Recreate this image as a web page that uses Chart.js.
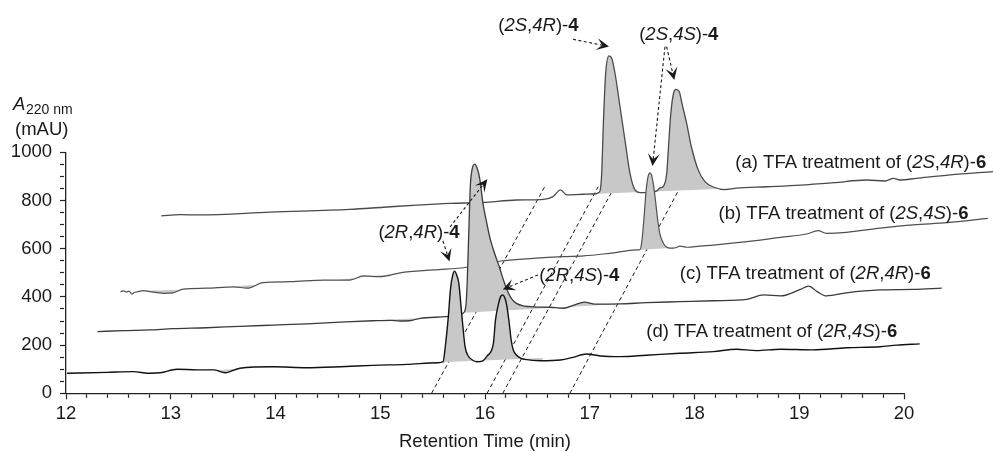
<!DOCTYPE html>
<html>
<head>
<meta charset="utf-8">
<script src="https://cdn.jsdelivr.net/npm/chart.js@4.4.1/dist/chart.umd.min.js"></script>
<style>
  html, body { margin: 0; padding: 0; background: #fff; }
  #wrap { width: 993px; height: 451px; }
</style>
</head>
<body>
<div id="wrap"><canvas id="chart" width="993" height="451"></canvas></div>
<script>
// traces as drawn in the figure (offset, stacked chromatograms) - time in min, absorbance in mAU
const traceDTime = [12.01, 12.39, 12.64, 12.80, 12.90, 13.06, 13.25, 13.41, 13.52, 13.66,
  13.98, 14.30, 14.62, 14.93, 15.25, 15.55, 15.60, 15.62, 15.65, 15.67,
  15.69, 15.71, 15.73, 15.75, 15.78, 15.81, 15.84, 15.88, 15.92, 15.98,
  16.02, 16.08, 16.10, 16.13, 16.15, 16.17, 16.19, 16.21, 16.23, 16.25,
  16.27, 16.30, 16.34, 16.38, 16.53, 16.72, 16.84, 16.97, 17.10, 17.29,
  17.54, 17.86, 18.18, 18.40, 18.59, 18.82, 19.13, 19.45, 19.77, 19.93, 20.15];
const traceDAbs = [83, 87, 90, 83, 85, 100, 97, 97, 85, 104,
  110, 106, 110, 116, 120, 127, 131, 190, 318, 430,
  487, 507, 490, 456, 318, 193, 155, 138, 131, 135,
  155, 207, 304, 373, 402, 408, 395, 359, 296, 221,
  180, 159, 146, 141, 135, 138, 149, 163, 155, 152,
  158, 166, 173, 183, 177, 183, 180, 189, 193, 200, 205];

const traceCTime = [12.30, 12.55, 12.80, 13.02, 13.34, 13.66, 13.98, 14.30, 14.62, 14.93,
  15.10, 15.19, 15.28, 15.38, 15.63, 15.79, 15.81, 15.82, 15.83, 15.845,
  15.86, 15.875, 15.90, 15.925, 15.95, 15.98, 16.02, 16.05, 16.10, 16.14,
  16.18, 16.21, 16.25, 16.30, 16.38, 16.46, 16.62, 16.75, 16.85, 16.95,
  17.05, 17.29, 17.54, 17.86, 18.18, 18.50, 18.66, 18.82, 19.01, 19.09,
  19.17, 19.26, 19.45, 19.77, 20.09, 20.36];
const traceCAbs = [256, 260, 263, 268, 272, 278, 283, 288, 295, 301,
  303, 300, 301, 311, 318, 332, 345, 375, 460, 664,
  860, 925, 951, 935, 890, 790, 700, 640, 570, 520,
  465, 430, 395, 373, 362, 359, 357, 353, 366, 378,
  370, 371, 376, 380, 384, 390, 408, 404, 431, 445,
  422, 404, 417, 429, 431, 436];

const traceBTime = [12.52, 12.55, 12.58, 12.60, 12.63, 12.65, 12.68, 12.74, 12.80, 12.93,
  13.02, 13.12, 13.34, 13.60, 13.73, 13.88, 14.14, 14.46, 14.71, 14.84,
  15.00, 15.19, 15.51, 15.83, 16.17, 16.46, 16.75, 16.94, 17.19, 17.45,
  17.48, 17.50, 17.52, 17.54, 17.56, 17.575, 17.59, 17.61, 17.63, 17.65,
  17.67, 17.70, 17.73, 17.77, 17.82, 17.86, 17.93, 18.05, 18.18, 18.50,
  18.82, 19.07, 19.18, 19.26, 19.45, 19.77, 20.09, 20.41, 20.80];
const traceBAbs = [422, 425, 420, 424, 411, 418, 421, 426, 422, 415,
  417, 432, 436, 442, 436, 459, 463, 470, 470, 487,
  484, 500, 512, 523, 550, 560, 567, 570, 581, 595,
  597, 640, 740, 850, 905, 915, 905, 860, 790, 715,
  660, 625, 608, 602, 604, 611, 606, 611, 615, 629,
  647, 661, 675, 664, 668, 685, 699, 708, 726];

const traceATime = [12.91, 13.09, 13.28, 13.95, 14.71, 15.03, 15.35, 15.67, 15.98, 16.30,
  16.56, 16.65, 16.72, 16.78, 16.94, 17.06, 17.08, 17.098, 17.114, 17.13,
  17.152, 17.184, 17.21, 17.241, 17.289, 17.336, 17.384, 17.432, 17.48, 17.575,
  17.64, 17.67, 17.70, 17.735, 17.75, 17.774, 17.80, 17.822, 17.855, 17.88,
  17.925, 17.97, 18.036, 18.10, 18.18, 18.29, 18.40, 18.69, 19.01, 19.33,
  19.64, 19.82, 19.90, 19.96, 20.12, 20.44, 20.85];
const traceAAbs = [736, 741, 740, 752, 763, 772, 781, 788, 792, 802,
  805, 816, 844, 823, 826, 828, 832, 840, 913, 1120,
  1328, 1400, 1390, 1328, 1189, 1051, 913, 844, 833, 834,
  840, 852, 858, 913, 1010, 1162, 1245, 1261, 1251, 1203,
  1120, 1023, 926, 878, 856, 845, 851, 857, 864, 874,
  885, 881, 892, 885, 892, 906, 920];

// integration baselines (gray area lies between trace and these), null = gap
const baseDTime = [13.45, 13.62, 13.63, 15.58, 16.55];
const baseDAbs = [96, 102, null, 129, 146];
const baseCTime = [15.05, 15.40, 15.41, 15.80, 17.25];
const baseCAbs = [305, 312, null, 334, 369];
const baseBTime = [12.76, 13.08, 13.09, 13.55, 13.80, 13.81, 14.62, 15.10, 15.11, 17.46, 17.80];
const baseBAbs = [426, 430, null, 441, 450, null, 472, 494, null, 595, 604];
const baseATime = [17.07, 18.40];
const baseAAbs = [828, 851];

// dashed guide lines linking the same retention time across traces
const guideFromTime = [15.49, 16.02, 16.17, 16.81];
const guideToTime = [16.57, 17.08, 17.22, 17.85];
const guideToAbs = [857, 857, 844, 844];

const xTickLabels = ['12', '13', '14', '15', '16', '17', '18', '19', '20'];
const yTickLabels = ['0', '200', '400', '600', '800', '1000'];

const traceLabels = [
  '(a) TFA treatment of (<i>2S</i>,<i>4R</i>)-<b>6</b>',
  '(b) TFA treatment of (<i>2S</i>,<i>4S</i>)-<b>6</b>',
  '(c) TFA treatment of (<i>2R</i>,<i>4R</i>)-<b>6</b>',
  '(d) TFA treatment of (<i>2R</i>,<i>4S</i>)-<b>6</b>'
];
const traceLabelAt = [[18.39, 935], [18.23, 723], [17.86, 474], [17.54, 234]];

const peakLabels = ['(<i>2S</i>,<i>4R</i>)-<b>4</b>', '(<i>2S</i>,<i>4S</i>)-<b>4</b>',
  '(<i>2R</i>,<i>4R</i>)-<b>4</b>', '(<i>2R</i>,<i>4S</i>)-<b>4</b>'];
const peakLabelAt = [[16.51, 1503], [17.85, 1468], [15.37, 646], [16.90, 466]];

const arrowFrom = [[16.84, 1469], [17.718, 1438], [17.734, 1438], [15.666, 690], [15.599, 632], [16.506, 491]];
const arrowTo = [[17.184, 1439], [17.599, 943], [17.807, 1300], [16.022, 888], [15.661, 547], [16.169, 431]];

const FAMILY = '"Liberation Sans", Arial, Helvetica, sans-serif';
const FONT_SIZE = 18.5;
const INK = '#1a1a1a';
const FILL = '#c8c8c8';

Chart.defaults.font.family = FAMILY;
Chart.defaults.font.size = FONT_SIZE;
Chart.defaults.color = INK;

const pts = (xs, ys) => xs.map((x, i) => ({ x: x, y: ys[i] }));

function traceSet(xs, ys, color, width) {
  return {
    data: pts(xs, ys),
    borderColor: color,
    borderWidth: width,
    backgroundColor: FILL,
    fill: '+1',
    pointRadius: 0,
    cubicInterpolationMode: 'monotone',
    clip: false
  };
}

function baseSet(xs, ys) {
  return {
    data: pts(xs, ys),
    borderColor: 'rgba(0,0,0,0)',
    borderWidth: 1,
    pointRadius: 0,
    fill: false,
    tension: 0,
    spanGaps: false,
    clip: false
  };
}

const datasets = [
  traceSet(traceDTime, traceDAbs, '#111', 1.4),
  baseSet(baseDTime, baseDAbs),
  traceSet(traceCTime, traceCAbs, '#3a3a3a', 1.3),
  baseSet(baseCTime, baseCAbs),
  traceSet(traceBTime, traceBAbs, '#505050', 1.2),
  baseSet(baseBTime, baseBAbs),
  traceSet(traceATime, traceAAbs, '#4a4a4a', 1.3),
  baseSet(baseATime, baseAAbs)
];
guideFromTime.forEach((t, i) => {
  datasets.push({
    data: [{ x: t, y: 0 }, { x: guideToTime[i], y: guideToAbs[i] }],
    borderColor: INK,
    borderWidth: 1,
    borderDash: [4, 3],
    pointRadius: 0,
    fill: false,
    clip: false
  });
});

function drawRich(ctx, markup, x, y, align, size) {
  const parts = [];
  const re = /<(i|b)>(.*?)<\/\1>|([^<]+)/g;
  let m;
  while ((m = re.exec(markup))) {
    if (m[3]) parts.push({ t: m[3], s: '' });
    else parts.push({ t: m[2], s: m[1] });
  }
  const fontOf = s => (s === 'i' ? 'italic ' : s === 'b' ? 'bold ' : '') + size + 'px ' + FAMILY;
  let total = 0;
  parts.forEach(p => { ctx.font = fontOf(p.s); p.w = ctx.measureText(p.t).width; total += p.w; });
  let cx = align === 'center' ? x - total / 2 : x;
  ctx.textAlign = 'left';
  ctx.textBaseline = 'alphabetic';
  parts.forEach(p => { ctx.font = fontOf(p.s); ctx.fillText(p.t, cx, y); cx += p.w; });
}

function drawArrow(ctx, x1, y1, x2, y2) {
  const ang = Math.atan2(y2 - y1, x2 - x1);
  const c = Math.cos(ang), s = Math.sin(ang);
  const len = 12.5, half = 6, notch = 0.55;
  ctx.save();
  ctx.strokeStyle = INK;
  ctx.fillStyle = INK;
  ctx.lineWidth = 1.1;
  ctx.setLineDash([3, 2.5]);
  ctx.beginPath();
  ctx.moveTo(x1, y1);
  ctx.lineTo(x2 - c * len * notch, y2 - s * len * notch);
  ctx.stroke();
  ctx.setLineDash([]);
  ctx.beginPath();
  ctx.moveTo(x2, y2);
  ctx.lineTo(x2 - c * len - s * half, y2 - s * len + c * half);
  ctx.lineTo(x2 - c * len * notch, y2 - s * len * notch);
  ctx.lineTo(x2 - c * len + s * half, y2 - s * len - c * half);
  ctx.closePath();
  ctx.fill();
  ctx.restore();
}

// let fills and lines run past the axis box like in the figure
const overflowPlugin = {
  id: 'overflow',
  beforeDatasetsDraw(chart) {
    chart.$savedArea = chart.chartArea;
    chart.chartArea = { left: 0, top: 0, right: chart.width, bottom: chart.height, width: chart.width, height: chart.height };
  },
  afterDatasetsDraw(chart) {
    chart.chartArea = chart.$savedArea;
  }
};

const notesPlugin = {
  id: 'notes',
  afterDraw(chart) {
    const ctx = chart.ctx;
    const xs = chart.scales.x, ys = chart.scales.y;
    const area = chart.chartArea;
    ctx.save();
    ctx.fillStyle = INK;
    traceLabels.forEach((t, i) => {
      drawRich(ctx, t, xs.getPixelForValue(traceLabelAt[i][0]), ys.getPixelForValue(traceLabelAt[i][1]), 'left', FONT_SIZE);
    });
    peakLabels.forEach((t, i) => {
      drawRich(ctx, t, xs.getPixelForValue(peakLabelAt[i][0]), ys.getPixelForValue(peakLabelAt[i][1]), 'center', FONT_SIZE);
    });
    arrowFrom.forEach((p, i) => {
      drawArrow(ctx, xs.getPixelForValue(p[0]), ys.getPixelForValue(p[1]),
        xs.getPixelForValue(arrowTo[i][0]), ys.getPixelForValue(arrowTo[i][1]));
    });
    // y axis title: A220 nm / (mAU)
    ctx.fillStyle = INK;
    ctx.textBaseline = 'alphabetic';
    ctx.textAlign = 'left';
    ctx.font = 'italic ' + FONT_SIZE + 'px ' + FAMILY;
    ctx.fillText('A', area.left - 53, area.top - 42);
    ctx.font = '14px ' + FAMILY;
    ctx.fillText('220 nm', area.left - 40, area.top - 38.5);
    ctx.font = FONT_SIZE + 'px ' + FAMILY;
    ctx.fillText('(mAU)', area.left - 51, area.top - 17.5);
    ctx.restore();
  }
};

const isMajor = v => Math.abs(v - Math.round(v)) < 1e-6;

new Chart(document.getElementById('chart'), {
  type: 'line',
  data: { datasets: datasets },
  plugins: [overflowPlugin, notesPlugin],
  options: {
    responsive: false,
    animation: false,
    devicePixelRatio: 1,
    layout: { padding: { top: 152.3, right: 89, left: 0, bottom: 0 } },
    plugins: { legend: { display: false }, tooltip: { enabled: false } },
    scales: {
      x: {
        type: 'linear',
        bounds: 'data',
        afterDataLimits: s => { s.min = Number(xTickLabels[0]); s.max = Number(xTickLabels[xTickLabels.length - 1]); },
        afterBuildTicks: s => {
          const ticks = [];
          xTickLabels.forEach((lab, i) => {
            const v = Number(lab);
            ticks.push({ value: v });
            if (i < xTickLabels.length - 1) {
              for (let k = 1; k < 5; k++) ticks.push({ value: Math.round((v + k * 0.2) * 10) / 10 });
            }
          });
          s.ticks = ticks;
        },
        afterFit: s => { s.height = 57.7; },
        border: { display: true, color: '#222', width: 1.3 },
        grid: {
          drawOnChartArea: false,
          tickLength: 6,
          tickColor: '#222',
          tickWidth: 1.2,
          tickBorderDash: ctx => (ctx.tick && !isMajor(ctx.tick.value)) ? [3.5, 30] : []
        },
        ticks: {
          autoSkip: false,
          maxRotation: 0,
          minRotation: 0,
          padding: 4,
          color: INK,
          callback: v => isMajor(v) ? String(Math.round(v)) : ''
        },
        title: {
          display: true,
          text: 'Retention Time (min)',
          color: INK,
          font: { size: FONT_SIZE, lineHeight: 1 },
          padding: { top: 0, bottom: 0 }
        }
      },
      y: {
        type: 'linear',
        min: 0,
        max: 1000,
        afterBuildTicks: s => {
          const ticks = [];
          for (let v = 0; v <= 1000; v += 50) ticks.push({ value: v });
          s.ticks = ticks;
        },
        afterFit: s => { s.width = 66; },
        border: { display: true, color: '#222', width: 1.3 },
        grid: {
          drawOnChartArea: false,
          tickLength: 6,
          tickColor: '#222',
          tickWidth: 1.2,
          tickBorderDash: ctx => (ctx.tick && ctx.tick.value % 200 !== 0) ? [4, 30] : []
        },
        ticks: {
          autoSkip: false,
          padding: 8,
          color: INK,
          callback: v => yTickLabels.includes(String(v)) ? String(v) : ''
        }
      }
    }
  }
});
</script>
</body>
</html>
